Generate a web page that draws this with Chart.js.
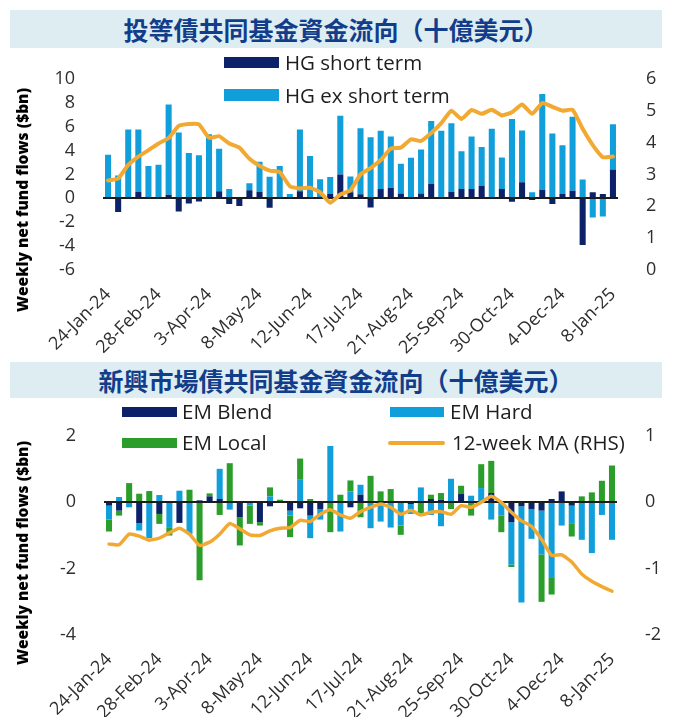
<!DOCTYPE html>
<html>
<head>
<meta charset="utf-8">
<script src="https://cdn.jsdelivr.net/npm/chart.js@4.4.1/dist/chart.umd.min.js"></script>
<style>
body { margin: 0; background: #fff; }
#wrap { position: relative; width: 674px; height: 717px; overflow: hidden; font-family: 'Open Sans', sans-serif; }
.band { position: absolute; left: 10px; width: 652px; background: #ddedf2; color: #123d8b;
        font-family: 'Noto Sans CJK TC', sans-serif; font-weight: bold; font-size: 25px; text-align: center; }
canvas { position: absolute; left: 0; }
.ytitle { position: absolute; width: 280px; height: 22px; line-height: 22px; text-align: center;
          transform: rotate(-90deg); font-weight: 800; font-size: 15.5px; color: #000; white-space: nowrap; }
.leg { position: absolute; font-size: 20.5px; color: #1e1e1e; white-space: nowrap; line-height: 24px; }
.sw { position: absolute; }
</style>
</head>
<body>
<div id="wrap">
  <div class="band" style="top:10px;height:38px;line-height:38px;">投等債共同基金資金流向（十億美元）</div>
  <canvas id="hgChart" width="674" height="312" style="top:48px;"></canvas>
  <div class="ytitle" style="left:-118px;top:189px;">Weekly net fund flows ($bn)</div>
  <div class="sw" style="left:224px;top:57px;width:55px;height:11px;background:#0c2268;"></div>
  <div class="leg" style="left:285px;top:50px;">HG short term</div>
  <div class="sw" style="left:224px;top:89px;width:55px;height:12px;background:#109fdb;"></div>
  <div class="leg" style="left:285px;top:83px;">HG ex short term</div>

  <div class="band" style="top:362px;height:36px;line-height:36px;">新興市場債共同基金資金流向（十億美元）</div>
  <canvas id="emChart" width="674" height="319" style="top:398px;"></canvas>
  <div class="ytitle" style="left:-118px;top:542px;">Weekly net fund flows ($bn)</div>
  <div class="sw" style="left:122px;top:407px;width:55px;height:10px;background:#0c2268;"></div>
  <div class="leg" style="left:182px;top:399px;">EM Blend</div>
  <div class="sw" style="left:122px;top:438px;width:55px;height:10px;background:#2b9d2a;"></div>
  <div class="leg" style="left:182px;top:430px;">EM Local</div>
  <div class="sw" style="left:390px;top:407px;width:54px;height:10px;background:#109fdb;"></div>
  <div class="leg" style="left:450px;top:399px;">EM Hard</div>
  <div class="sw" style="left:388px;top:441px;width:57px;height:4px;border-radius:2px;background:#f2a931;"></div>
  <div class="leg" style="left:452px;top:430px;">12-week MA (RHS)</div>
</div>
<script>
const weeks = ['24-Jan-24','31-Jan-24','7-Feb-24','14-Feb-24','21-Feb-24','28-Feb-24','6-Mar-24','13-Mar-24','20-Mar-24','27-Mar-24',
  '3-Apr-24','10-Apr-24','17-Apr-24','24-Apr-24','1-May-24','8-May-24','15-May-24','22-May-24','29-May-24','5-Jun-24',
  '12-Jun-24','19-Jun-24','26-Jun-24','3-Jul-24','10-Jul-24','17-Jul-24','24-Jul-24','31-Jul-24','7-Aug-24','14-Aug-24',
  '21-Aug-24','28-Aug-24','4-Sep-24','11-Sep-24','18-Sep-24','25-Sep-24','2-Oct-24','9-Oct-24','16-Oct-24','23-Oct-24',
  '30-Oct-24','6-Nov-24','13-Nov-24','20-Nov-24','27-Nov-24','4-Dec-24','11-Dec-24','18-Dec-24','25-Dec-24','1-Jan-25','8-Jan-25'];

// HG chart
const hgShort = [0.05,-1.15,0.05,0.55,0.05,0.1,0.3,-1.1,-0.43,-0.27,0.05,0.6,-0.48,-0.65,0.68,0.53,-0.8,0.05,0,0.6,
  0.05,0,0.35,2.0,0.5,0.33,-0.77,0.77,0.88,0.41,0.05,0.41,1.21,0.05,0.55,0.77,0.77,1.02,0.05,0.77,
  -0.28,1.35,-0.14,0.69,-0.47,0.36,0.63,-3.91,0.5,0.36,2.42];
const hgExShort = [3.6,1.9,5.7,5.2,2.65,2.7,7.55,5.5,3.8,3.6,5.3,3.55,0.77,0,0.58,2.52,1.8,2.65,0.35,5.15,
  3.5,1.6,1.43,4.9,1.33,5.54,5.1,4.88,4.3,2.48,3.34,3.67,5.26,5.6,5.73,3.17,4.41,3.28,5.76,2.65,
  6.64,4.33,0.5,8.04,5.43,4.08,6.2,1.58,-1.6,-1.52,3.78];
const hgMA = [2.81,2.87,3.3,3.56,3.76,3.97,4.14,4.52,4.58,4.57,4.15,4.2,3.97,3.84,3.49,3.27,3.12,3.07,2.63,2.56,
  2.58,2.44,2.11,2.37,2.5,3.0,3.2,3.45,3.81,3.84,4.1,4.05,4.3,4.61,5.0,4.74,5.02,4.9,5.03,4.85,
  4.95,5.19,4.9,5.24,5.12,5.0,5.03,4.43,3.92,3.54,3.56];

// EM chart
const emBlend = [-0.1,-0.25,0,-0.63,0,-0.35,0,-0.62,0,0.06,0.18,0.1,0,-0.45,0,-0.6,-0.12,0,-0.25,-0.18,
  -0.4,-0.2,0,0,-0.15,0.23,0,0,0,0,-0.05,0,0.1,0.08,0,0.25,0,0,0.28,0,
  -0.6,-0.12,-0.2,-0.25,0.1,0.33,-0.1,0,0,0,0];
const emHard = [-0.42,0.16,-0.15,-0.22,-1.08,0.22,-0.75,0.35,-0.95,0,0,0.91,-0.22,0,-0.1,0,0.18,0,-0.15,0.7,
  -0.68,-0.32,1.7,-0.88,0.33,0.3,-0.78,-0.58,-0.76,-0.7,-0.3,0.45,-0.38,-0.72,0.71,0,0.2,0.43,-0.52,-0.4,
  -1.28,-2.9,-0.9,-1.32,-2.28,-0.7,-0.55,-1.13,-1.53,-0.38,-1.13];
const emLocal = [-0.36,-0.15,0.58,0.26,0.34,-0.3,-0.25,0,0.38,-2.35,0.09,-0.38,1.18,-0.85,-0.55,-0.1,0.27,0.08,-0.65,0.62,
  0.1,0,-0.9,0.23,0.33,-0.45,0.8,0.33,0.4,-0.28,0,-0.4,0.13,0.2,-0.2,0.25,-0.4,0.72,0.97,-0.5,
  -0.07,0,0,-1.43,-0.5,0,-0.38,0.18,0.3,0.65,1.11];
const emMA = [-0.63,-0.64,-0.48,-0.51,-0.57,-0.54,-0.46,-0.39,-0.48,-0.65,-0.6,-0.48,-0.32,-0.4,-0.49,-0.5,-0.43,-0.39,-0.38,-0.27,
  -0.29,-0.18,-0.11,-0.19,-0.24,-0.14,-0.075,-0.025,-0.075,-0.18,-0.12,-0.19,-0.15,-0.14,-0.18,-0.05,-0.075,0,0.09,0,
  -0.15,-0.28,-0.36,-0.56,-0.8,-0.79,-0.9,-1.08,-1.19,-1.27,-1.34];

const navy = '#0c2268';
const lightBlue = '#109fdb';
const green = '#2b9d2a';
const orange = '#f2a931';
const tickColor = '#2e2e2e';

Chart.defaults.font.family = "'Open Sans', sans-serif";
Chart.defaults.animation = false;

// dark line at zero, drawn over the bars but under the MA line
const zeroLine = {
    id: 'zeroLine',
    beforeDatasetDraw(chart, args) {
        if (args.meta.type !== 'line') return;
        const area = chart.chartArea;
        const y = Math.round(chart.scales.y.getPixelForValue(0));
        const c = chart.ctx;
        c.save();
        c.strokeStyle = '#1c1c1c';
        c.lineWidth = 2;
        c.beginPath();
        c.moveTo(area.left, y);
        c.lineTo(area.right, y);
        c.stroke();
        c.restore();
    }
};

function xAxis(h) {
    return {
        stacked: true,
        grid: { display: false },
        border: { display: false },
        ticks: {
            autoSkip: false,
            maxRotation: 45,
            minRotation: 45,
            padding: 6,
            color: tickColor,
            font: { size: 18 },
            callback: function (value, index) {
                return index % 5 === 0 ? this.getLabelForValue(value) : '';
            }
        },
        afterFit: function (scale) { scale.height = h; }
    };
}

function yAxis(pos, min, max, step, w, stacked) {
    return {
        position: pos,
        stacked: stacked,
        min: min,
        max: max,
        grid: { display: false },
        border: { display: false },
        ticks: { stepSize: step, autoSkip: false, padding: 20, color: tickColor, font: { size: 18 } },
        afterFit: function (scale) { scale.width = w; }
    };
}

const barOpts = { barPercentage: 0.6, categoryPercentage: 1.0, order: 1, yAxisID: 'y' };

new Chart(document.getElementById('hgChart').getContext('2d'), {
    type: 'bar',
    data: {
        labels: weeks,
        datasets: [
            Object.assign({ label: 'HG short term', data: hgShort, backgroundColor: navy }, barOpts),
            Object.assign({ label: 'HG ex short term', data: hgExShort, backgroundColor: lightBlue }, barOpts),
            {
                type: 'line', label: 'MA', data: hgMA, yAxisID: 'y1', order: 0,
                borderColor: orange, borderWidth: 4, pointRadius: 0, tension: 0.15,
                borderCapStyle: 'round', borderJoinStyle: 'round'
            }
        ]
    },
    options: {
        responsive: false,
        layout: { padding: { top: 28, left: 0, right: 0, bottom: 0 } },
        plugins: { legend: { display: false }, tooltip: { enabled: false } },
        scales: {
            x: xAxis(90),
            y: yAxis('left', -6, 10, 2, 103, true),
            y1: yAxis('right', 0, 6, 1, 56, false)
        }
    },
    plugins: [zeroLine]
});

new Chart(document.getElementById('emChart').getContext('2d'), {
    type: 'bar',
    data: {
        labels: weeks,
        datasets: [
            Object.assign({ label: 'EM Blend', data: emBlend, backgroundColor: navy }, barOpts),
            Object.assign({ label: 'EM Hard', data: emHard, backgroundColor: lightBlue }, barOpts),
            Object.assign({ label: 'EM Local', data: emLocal, backgroundColor: green }, barOpts),
            {
                type: 'line', label: '12-week MA (RHS)', data: emMA, yAxisID: 'y1', order: 0,
                borderColor: orange, borderWidth: 3.5, pointRadius: 0, tension: 0.15,
                borderCapStyle: 'round', borderJoinStyle: 'round'
            }
        ]
    },
    options: {
        responsive: false,
        layout: { padding: { top: 38, left: 0, right: 0, bottom: 0 } },
        plugins: { legend: { display: false }, tooltip: { enabled: false } },
        scales: {
            x: xAxis(82),
            y: yAxis('left', -4, 2, 2, 104, true),
            y1: yAxis('right', -2, 1, 1, 57, false)
        }
    },
    plugins: [zeroLine]
});
</script>
</body>
</html>
